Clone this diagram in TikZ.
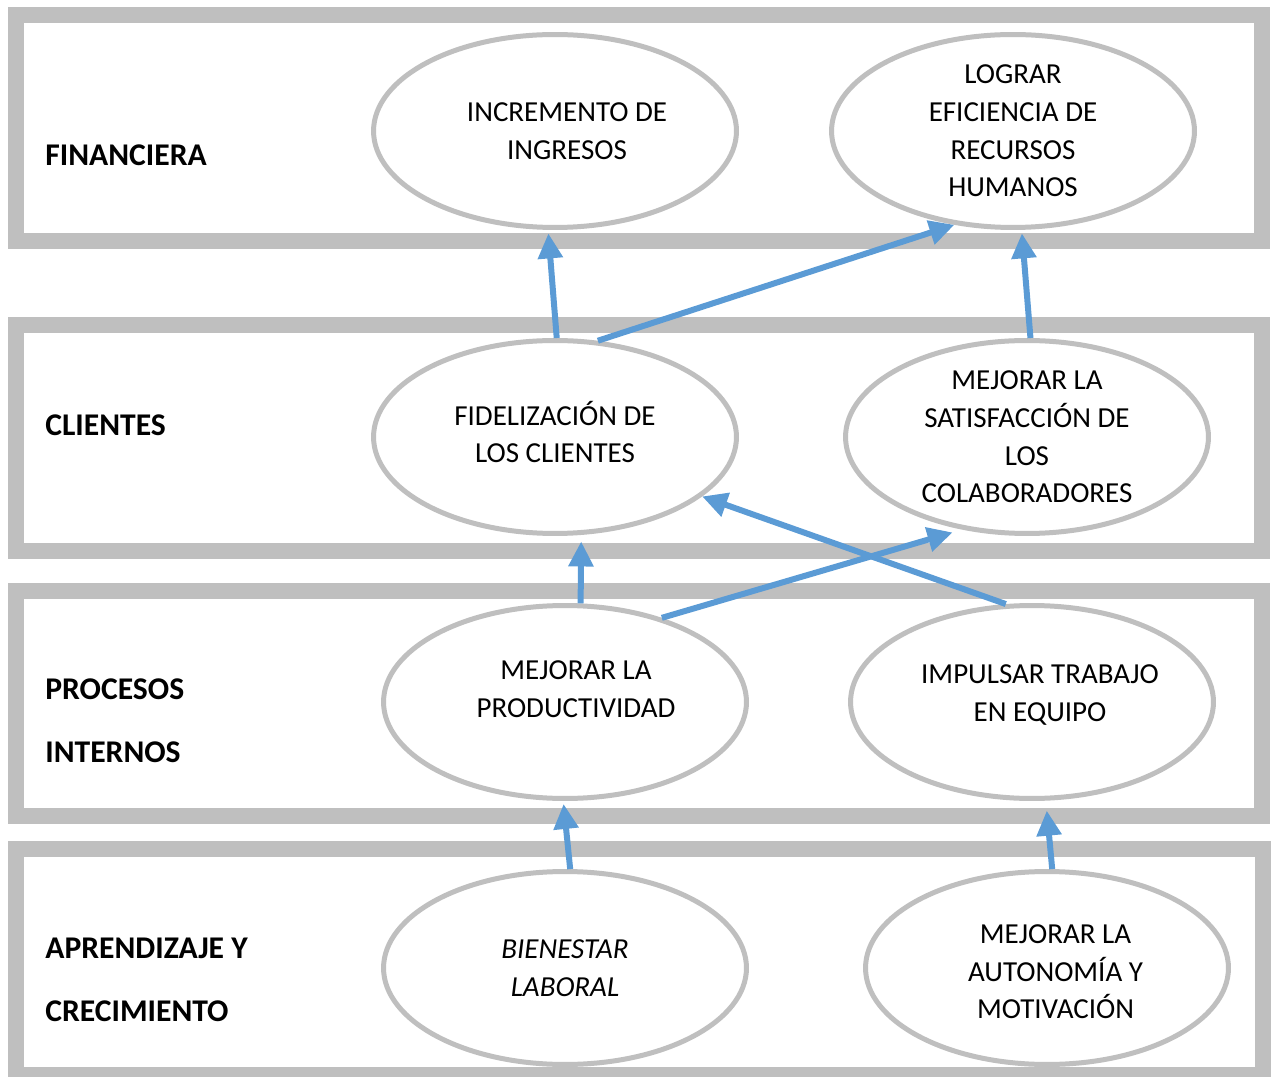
\documentclass[tikz,border=0pt]{standalone}
\usepackage{fontspec}
\setmainfont{Carlito}
\usetikzlibrary{shapes.geometric,arrows.meta}
\definecolor{bandgray}{HTML}{BFBFBF}
\definecolor{linkblue}{HTML}{5B9BD5}

\begin{document}
\begin{tikzpicture}[x=0.02cm, y=-0.02cm,
    band/.style={draw=bandgray, line width=0.32cm},
    oval/.style={ellipse, draw=bandgray, fill=white, line width=0.1cm,
        minimum width=7.26cm, minimum height=3.86cm, inner sep=0pt},
    txt/.style={align=center, inner sep=0pt, font=\fontsize{16.5pt}{21.4pt}\selectfont},
    side/.style={anchor=west, inner sep=0pt, align=left,
        font=\fontsize{18pt}{36pt}\selectfont\bfseries},
    link/.style={draw=linkblue, line width=0.12cm,
        -{Triangle[length=0.5cm,width=0.48cm]}}]
    \useasboundingbox (0,0) rectangle (1271,1077);
    % Bands
    \draw[band] (16,15) rectangle (1262,241);
    \draw[band] (16,325) rectangle (1262,551);
    \draw[band] (16,591) rectangle (1262,816);
    \draw[band] (16,849) rectangle (1263,1075);
    \node[side] (fin) at (45,155) {FINANCIERA};
    \node[side] (cli) at (45,425) {CLIENTES};
    \node[side] (pro) at (45,721) {PROCESOS\\INTERNOS};
    \node[side] (apr) at (45,980) {APRENDIZAJE Y\\CRECIMIENTO};
    % Goals
    \node[oval, label={[txt, xshift=0.24cm]center:INCREMENTO DE\\INGRESOS}] (inc) at (555,131) {};
    \node[oval, label={[txt]center:LOGRAR\\EFICIENCIA DE\\RECURSOS\\HUMANOS}] (efi) at (1013,131) {};
    \node[oval, label={[txt, yshift=0.1cm]center:FIDELIZACIÓN DE\\LOS CLIENTES}] (fid) at (555,437) {};
    \node[oval, label={[txt]center:MEJORAR LA\\SATISFACCIÓN DE\\LOS\\COLABORADORES}] (sat) at (1027,437) {};
    \node[oval, label={[txt, xshift=0.22cm, yshift=0.26cm]center:MEJORAR LA\\PRODUCTIVIDAD}] (prd) at (565,702) {};
    \node[oval, label={[txt, xshift=0.16cm, yshift=0.14cm]center:IMPULSAR TRABAJO\\EN EQUIPO}] (imp) at (1032,702) {};
    \node[oval, label={[txt, font=\fontsize{16.5pt}{21.4pt}\selectfont\itshape]center:BIENESTAR\\LABORAL}] (bie) at (565,968) {};
    \node[oval, label={[txt, xshift=0.17cm, yshift=-0.08cm]center:MEJORAR LA\\AUTONOMÍA Y\\MOTIVACIÓN}] (aut) at (1047,968) {};
    % Links
    \draw[link, shorten >=0.07cm] (fid.89) -- (inc.-94);
    \draw[link] (fid.66) -- (efi.-122);
    \draw[link, shorten >=0.07cm] (sat.88) -- (efi.-85);
    \draw[link, shorten >=0.13cm] (prd.81) -- (fid.-75);
    \draw[link, shorten >=0.2cm] (prd.41.6) -- (sat.-125);
    \draw[link] (imp.105) -- (fid.-22.5);
    \draw[link, shorten >=0.06cm] (bie.87) -- (prd.-91);
    \draw[link, shorten >=0.2cm] (aut.87.4) -- (imp.-82.6);
\end{tikzpicture}
\end{document}
